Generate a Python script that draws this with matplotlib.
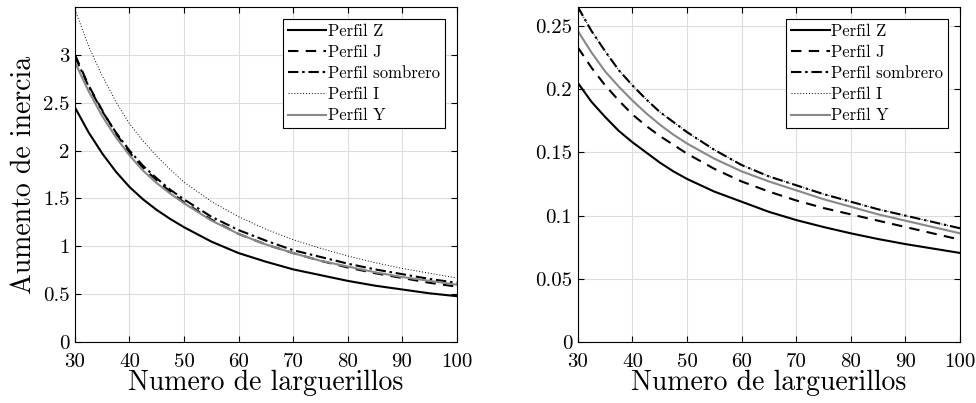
import matplotlib
matplotlib.use("Agg")
import matplotlib.pyplot as plt
from matplotlib.ticker import FuncFormatter

plt.rcParams['font.family'] = 'serif'
plt.rcParams['font.serif'] = ['cmr10', 'DejaVu Serif']
plt.rcParams['mathtext.fontset'] = 'cm'
plt.rcParams['axes.formatter.use_mathtext'] = True

# numero de larguerillos
n = [30, 32.5, 35, 37.5, 40, 42.5, 45, 47.5, 50, 55, 60, 65, 70, 75, 80, 85, 90, 95, 100]

# aumento de inercia (izquierda)
z_izq = [2.45, 2.19, 1.97, 1.78, 1.62, 1.49, 1.38, 1.285, 1.20, 1.05, 0.93, 0.84, 0.76, 0.70, 0.64, 0.59, 0.55, 0.51, 0.48]
j_izq = [3.00, 2.68, 2.42, 2.18, 1.98, 1.82, 1.69, 1.57, 1.46, 1.28, 1.13, 1.02, 0.93, 0.85, 0.78, 0.72, 0.67, 0.62, 0.58]
s_izq = [2.98, 2.67, 2.41, 2.19, 2.00, 1.84, 1.71, 1.59, 1.49, 1.31, 1.17, 1.06, 0.96, 0.89, 0.82, 0.76, 0.71, 0.66, 0.62]
i_izq = [3.47, 3.09, 2.78, 2.51, 2.28, 2.10, 1.94, 1.80, 1.67, 1.47, 1.31, 1.18, 1.07, 0.98, 0.90, 0.83, 0.77, 0.72, 0.67]
y_izq = [2.92, 2.62, 2.36, 2.14, 1.95, 1.79, 1.66, 1.55, 1.45, 1.27, 1.13, 1.02, 0.93, 0.85, 0.79, 0.73, 0.68, 0.64, 0.60]

# derecha
z_der = [0.205, 0.190, 0.178, 0.167, 0.158, 0.150, 0.142, 0.135, 0.129, 0.119, 0.111, 0.103, 0.0965, 0.091, 0.086, 0.0815, 0.0775, 0.074, 0.0705]
j_der = [0.233, 0.217, 0.203, 0.191, 0.180, 0.171, 0.163, 0.156, 0.149, 0.137, 0.127, 0.119, 0.112, 0.106, 0.101, 0.096, 0.091, 0.086, 0.081]
s_der = [0.265, 0.246, 0.230, 0.215, 0.203, 0.192, 0.182, 0.174, 0.166, 0.152, 0.140, 0.131, 0.124, 0.117, 0.111, 0.105, 0.100, 0.095, 0.090]
i_der = [0.265, 0.246, 0.230, 0.215, 0.203, 0.192, 0.182, 0.174, 0.166, 0.152, 0.140, 0.131, 0.124, 0.117, 0.111, 0.105, 0.100, 0.095, 0.090]
y_der = [0.246, 0.229, 0.214, 0.202, 0.191, 0.181, 0.172, 0.164, 0.157, 0.145, 0.135, 0.127, 0.120, 0.113, 0.107, 0.101, 0.096, 0.091, 0.086]

nombres = ['Perfil Z', 'Perfil J', 'Perfil sombrero', 'Perfil I', 'Perfil Y']
estilos = [
    dict(color='black', lw=1.5, ls='-'),
    dict(color='black', lw=1.5, ls=(0, (5, 3.5))),
    dict(color='black', lw=1.5, ls=(0, (5, 1.8, 1.2, 1.8))),
    dict(color='black', lw=0.7, ls=(0, (1, 2))),
    dict(color='#888888', lw=1.5, ls='-'),
]

fig = plt.figure(figsize=(9.76, 4.03), dpi=100)
ax1 = fig.add_axes([0.0768, 0.151, 0.391, 0.832])
ax2 = fig.add_axes([0.592, 0.151, 0.3916, 0.832])

fmt = FuncFormatter(lambda v, p: '%g' % v)

for ax, series, ylim, yticks in [
        (ax1, [z_izq, j_izq, s_izq, i_izq, y_izq], 3.5, [0, 0.5, 1, 1.5, 2, 2.5, 3]),
        (ax2, [z_der, j_der, s_der, i_der, y_der], 0.265, [0, 0.05, 0.1, 0.15, 0.2, 0.25])]:
    for vals, nombre, est in zip(series, nombres, estilos):
        ax.plot(n, vals, label=nombre, **est)
    ax.set_xlim(30, 100)
    ax.set_ylim(0, ylim)
    ax.set_xticks(range(30, 101, 10))
    ax.set_yticks(yticks)
    ax.xaxis.set_major_formatter(fmt)
    ax.yaxis.set_major_formatter(fmt)
    ax.grid(True, color='#dcdcdc', lw=0.8)
    ax.set_axisbelow(True)
    ax.tick_params(direction='in', top=True, right=True, labelsize=15, length=4, width=0.8)
    ax.tick_params(axis='x', pad=8)
    ax.tick_params(axis='y', pad=4)
    for sp in ax.spines.values():
        sp.set_linewidth(0.8)
    ax.set_xlabel('Numero de larguerillos', fontsize=20, labelpad=-1)
    leg = ax.legend(loc='upper right', fontsize=12, frameon=True, fancybox=False,
                    edgecolor='black', framealpha=1, handlelength=2.3,
                    handletextpad=0.1, borderpad=0.3, labelspacing=0.35,
                    borderaxespad=0.7)
    leg.get_frame().set_linewidth(0.8)

ax1.set_ylabel('Aumento de inercia', fontsize=20, labelpad=4)

fig.savefig('out.png', dpi=100)
